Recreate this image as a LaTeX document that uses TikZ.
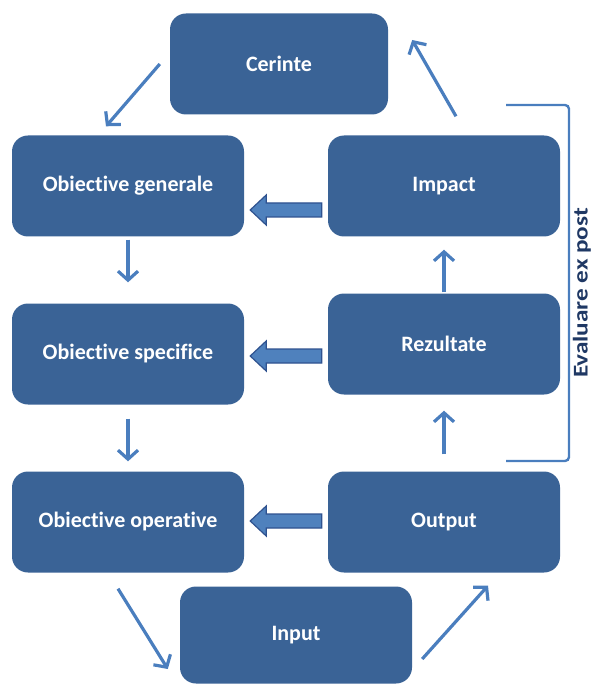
\documentclass[tikz,border=0pt]{standalone}
\usepackage{fontspec}
\setmainfont[Ligatures=NoCommon]{Carlito}
\usepackage{tikz}
\usetikzlibrary{arrows.meta,calc}
\definecolor{boxblue}{RGB}{58,99,150}
\definecolor{linkblue}{RGB}{74,126,190}
\definecolor{fatfill}{RGB}{79,129,189}
\definecolor{fatedge}{RGB}{47,82,143}
\definecolor{evalnavy}{RGB}{31,56,100}

\begin{document}
\begin{tikzpicture}[x=1pt,y=-1pt,
  box/.style={fill=boxblue, rounded corners=16pt, minimum width=232pt, minimum height=101pt,
    text=white, font=\bfseries\fontsize{22}{26}\selectfont, inner sep=0pt},
  link/.style={draw=linkblue, line width=3.2pt, -{Straight Barb[length=9pt,width=20pt]}},
  fat/.style={draw=fatedge, fill=fatfill, line width=1.2pt, to path={
    let \p1=(\tikztostart), \p2=(\tikztotarget) in
    (\x1,\y1-7pt) -- (\x2+16pt,\y1-7pt) -- (\x2+16pt,\y1-15pt) -- (\x2,\y1)
    -- (\x2+16pt,\y1+15pt) -- (\x2+16pt,\y1+7pt) -- (\x1,\y1+7pt) -- cycle}}]
  \useasboundingbox (0,0) rectangle (592,684);

  \node[box, minimum width=218pt] (cerinte) at (279,64) {Cerinte};
  \node[box] (objgen)  at (128,186) {Obiective generale};
  \node[box] (impact)  at (444,186) {Impact};
  \node[box] (objspec) at (128,354) {Obiective specifice};
  \node[box] (rezult)  at (444,344) {Rezultate};
  \node[box] (objop)   at (128,522) {Obiective operative};
  \node[box] (output)  at (444,522) {Output};
  \node[box, minimum height=97pt] (input) at (296,635) {Input};

  \draw[link] ($(cerinte.west)+(-10,0)$) -- ($(objgen.north)+(-22,-9)$);
  \draw[link] ($(objgen.south)+(0,3)$) -- ($(objspec.north)+(0,-21)$);
  \draw[link] ($(objspec.south)+(0,14)$) -- ($(objop.north)+(0,-10)$);
  \draw[link] ($(objop.south)+(-10,16)$) -- ($(input.west)+(-12,34)$);
  \draw[link] ($(input.east)+(10,24)$) -- ($(output.south)+(44,13)$);
  \draw[link] ($(output.north)+(0,-17)$) -- ($(rezult.south)+(0,16)$);
  \draw[link] ($(rezult.north)+(0,-1)$) -- ($(impact.south)+(0,13)$);
  \draw[link] ($(impact.north)+(12,-19)$) -- ($(cerinte.east)+(24,-24)$);

  \draw[fat] ($(impact.west)+(-6,24)$) to ($(objgen.east)+(6,24)$);
  \draw[fat] ($(rezult.west)+(-6,12)$) to ($(objspec.east)+(6,2)$);
  \draw[fat] ($(output.west)+(-6,-1)$) to ($(objop.east)+(6,-1)$);

  \draw[linkblue, line width=2.4pt, rounded corners=4pt] (506,105) -- (569,105) -- (569,461) -- (506,461);
  \node[text=evalnavy, rotate=90, font=\bfseries\fontsize{21}{24}\selectfont, inner sep=0pt]
    (evalpost) at (582,293) {\scalebox{1.2}[1]{Evaluare ex post}};
\end{tikzpicture}
\end{document}
